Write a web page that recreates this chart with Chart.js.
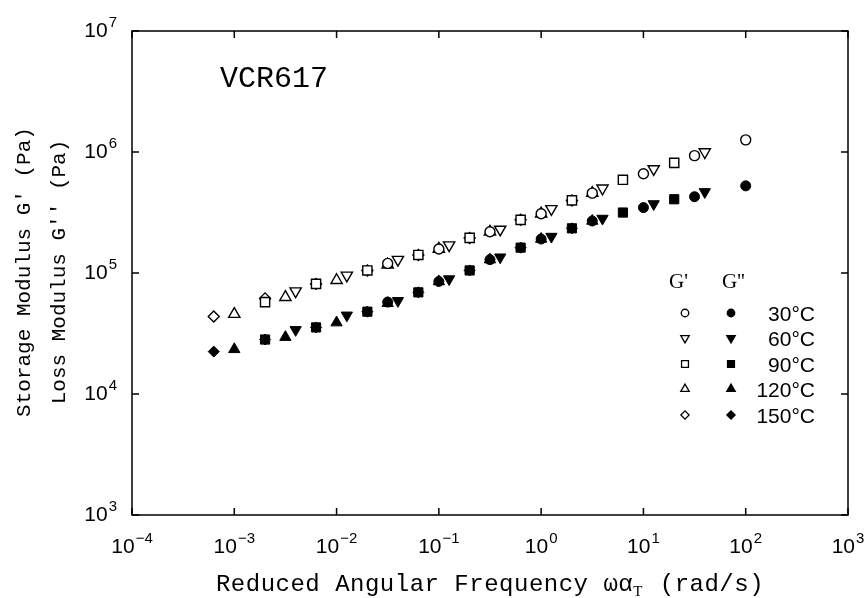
<!DOCTYPE html>
<html>
<head>
<meta charset="utf-8">
<script src="https://cdn.jsdelivr.net/npm/chart.js@4.4.1/dist/chart.umd.min.js"></script>
<style>
  html, body { margin: 0; padding: 0; background: #fff; }
  #wrap { width: 865px; height: 598px; }
</style>
</head>
<body>
<div id="wrap"><canvas id="chart" width="865" height="598"></canvas></div>
<script>
// reduced angular frequency (rad/s) and moduli (Pa)
const freq30 = [0.0316, 0.1, 0.316, 1, 3.16, 10, 31.6, 100]
const gp30 = [1.20e5, 1.58e5, 2.19e5, 3.09e5, 4.57e5, 6.61e5, 9.33e5, 1.26e6]
const gpp30 = [5.75e4, 8.51e4, 1.29e5, 1.91e5, 2.69e5, 3.47e5, 4.27e5, 5.25e5]

const freq60 = [0.00398, 0.0126, 0.0398, 0.126, 0.398, 1.26, 3.98, 12.6, 39.8]
const gp60 = [7.08e4, 9.55e4, 1.29e5, 1.70e5, 2.29e5, 3.39e5, 5.01e5, 7.24e5, 1.0e6]
const gpp60 = [3.39e4, 4.47e4, 5.89e4, 8.91e4, 1.35e5, 2.0e5, 2.82e5, 3.72e5, 4.68e5]

const freq90 = [0.002, 0.0063, 0.02, 0.063, 0.2, 0.63, 2.0, 6.3, 20]
const gp90 = [5.75e4, 8.13e4, 1.05e5, 1.41e5, 1.95e5, 2.75e5, 3.98e5, 5.89e5, 8.13e5]
const gpp90 = [2.82e4, 3.55e4, 4.79e4, 6.92e4, 1.05e5, 1.62e5, 2.34e5, 3.16e5, 4.07e5]

const freq120 = [0.001, 0.00316, 0.01, 0.0316, 0.1, 0.316, 1, 3.16]
const gp120 = [4.57e4, 6.31e4, 8.71e4, 1.17e5, 1.58e5, 2.19e5, 3.09e5, 4.57e5]
const gpp120 = [2.34e4, 2.95e4, 3.89e4, 5.62e4, 8.51e4, 1.29e5, 1.91e5, 2.69e5]

const freq150 = [0.00063, 0.002, 0.0063, 0.02, 0.063, 0.2, 0.63, 2.0]
const gp150 = [4.37e4, 6.17e4, 8.13e4, 1.05e5, 1.41e5, 1.95e5, 2.75e5, 3.98e5]
const gpp150 = [2.24e4, 2.82e4, 3.55e4, 4.79e4, 6.92e4, 1.05e5, 1.62e5, 2.34e5]

const temps = ['30°C', '60°C', '90°C', '120°C', '150°C']
const xTicks = [1e-4, 1e-3, 1e-2, 1e-1, 1e0, 1e1, 1e2, 1e3]
const yTicks = [1e3, 1e4, 1e5, 1e6, 1e7]

const series = [
  [freq30, gp30, gpp30],
  [freq60, gp60, gpp60],
  [freq90, gp90, gpp90],
  [freq120, gp120, gpp120],
  [freq150, gp150, gpp150]
]

// marker per temperature
const markers = [
  { style: 'circle', rot: 0, r: 5 },
  { style: 'triangle', rot: 180, r: 6.5 },
  { style: 'rect', rot: 0, r: 6.5 },
  { style: 'triangle', rot: 0, r: 6.5 },
  { style: 'rectRot', rot: 0, r: 5.5 }
]

const datasets = []
series.forEach(([f, gp, gpp], i) => {
  const m = markers[i]
  datasets.push({
    label: "G' " + temps[i],
    data: f.map((x, k) => ({ x, y: gp[k] })),
    pointStyle: m.style, pointRotation: m.rot, pointRadius: m.r,
    backgroundColor: '#fff', borderColor: '#000', pointBorderWidth: 1.4,
    showLine: false, order: i
  })
  datasets.push({
    label: "G'' " + temps[i],
    data: f.map((x, k) => ({ x, y: gpp[k] })),
    pointStyle: m.style, pointRotation: m.rot, pointRadius: m.r,
    backgroundColor: '#000', borderColor: '#000', pointBorderWidth: 1,
    showLine: false, order: i
  })
})

const SANS = '"Liberation Sans", Arial, sans-serif'
const MONO = '"Liberation Mono", "DejaVu Sans Mono", monospace'
const SERIF = '"Liberation Serif", "DejaVu Serif", serif'

function drawPow(ctx, exp, px, base, align) {
  const e = String(exp).replace('-', '\u2212')
  ctx.font = '21px ' + SANS
  const w1 = ctx.measureText('10').width
  ctx.font = '15px ' + SANS
  const w2 = ctx.measureText(e).width + 1
  const left = align === 'center' ? px - (w1 + w2) / 2 : px - w1 - w2
  ctx.font = '21px ' + SANS
  ctx.fillText('10', left, base)
  ctx.font = '15px ' + SANS
  ctx.fillText(e, left + w1 + 1, base - 10)
}

const decorations = {
  id: 'decorations',
  afterDraw(chart) {
    const { ctx, chartArea: a, scales: { x, y } } = chart
    ctx.save()
    ctx.strokeStyle = '#000'
    ctx.fillStyle = '#000'
    ctx.lineWidth = 1.5
    ctx.strokeRect(a.left, a.top, a.right - a.left, a.bottom - a.top)

    // inward ticks on all four sides
    ctx.beginPath()
    xTicks.forEach(v => {
      const px = x.getPixelForValue(v)
      ctx.moveTo(px, a.bottom); ctx.lineTo(px, a.bottom - 7)
      ctx.moveTo(px, a.top); ctx.lineTo(px, a.top + 7)
    })
    yTicks.forEach(v => {
      const py = y.getPixelForValue(v)
      ctx.moveTo(a.left, py); ctx.lineTo(a.left + 7, py)
      ctx.moveTo(a.right, py); ctx.lineTo(a.right - 7, py)
    })
    ctx.stroke()

    ctx.textAlign = 'left'
    ctx.textBaseline = 'alphabetic'
    xTicks.forEach(v => drawPow(ctx, Math.round(Math.log10(v)), x.getPixelForValue(v), a.bottom + 38, 'center'))
    yTicks.forEach(v => drawPow(ctx, Math.round(Math.log10(v)), a.left - 15, y.getPixelForValue(v) + 6, 'right'))

    // x axis title with subscript
    const p1 = 'Reduced Angular Frequency \u03c9\u03b1'
    const p3 = ' (rad/s)'
    ctx.font = '24px ' + MONO
    ctx.letterSpacing = '0.5px'
    const w1 = ctx.measureText(p1).width
    const w3 = ctx.measureText(p3).width
    ctx.font = '15px ' + SERIF
    const w2 = ctx.measureText('T').width + 2
    const tx = 490 - (w1 + w2 + w3) / 2
    const tb = a.bottom + 76
    ctx.font = '24px ' + MONO
    ctx.fillText(p1, tx, tb)
    ctx.font = '15px ' + SERIF
    ctx.fillText('T', tx + w1, tb + 5)
    ctx.font = '24px ' + MONO
    ctx.fillText(p3, tx + w1 + w2, tb)
    ctx.letterSpacing = '0px'

    // y axis titles (two lines, rotated)
    ctx.textAlign = 'center'
    ctx.font = '21px ' + MONO
    ;[["Storage Modulus G' (Pa)", 30], ["Loss Modulus G'' (Pa)", 65]].forEach(([t, bx]) => {
      ctx.save()
      ctx.translate(bx, 272)
      ctx.rotate(-Math.PI / 2)
      ctx.fillText(t, 0, 0)
      ctx.restore()
    })

    // sample name
    ctx.textAlign = 'left'
    ctx.font = '30px ' + MONO
    ctx.fillText('VCR617', 220, 87)

    // legend: G' (open) and G'' (filled) columns
    ctx.font = '21px ' + SERIF
    ctx.fillText("G'", 669, 288)
    ctx.fillText("G''", 722, 288)
    const rows = [313, 338, 364, 389, 415]
    markers.forEach((m, i) => {
      const opts = { pointStyle: m.style, rotation: m.rot, radius: m.r * 0.75, borderWidth: 1.3 }
      ctx.lineWidth = 1.3
      ctx.fillStyle = '#fff'
      Chart.helpers.drawPoint(ctx, opts, 685, rows[i])
      ctx.fillStyle = '#000'
      Chart.helpers.drawPoint(ctx, opts, 731, rows[i])
      ctx.textAlign = 'right'
      ctx.font = '21px ' + SANS
      ctx.fillText(temps[i], 815, rows[i] + 8)
      ctx.textAlign = 'left'
    })
    ctx.restore()
  }
}

new Chart(document.getElementById('chart'), {
  type: 'scatter',
  data: { datasets },
  options: {
    responsive: false,
    animation: false,
    layout: { padding: { left: 132, right: 17, top: 31, bottom: 83 } },
    plugins: { legend: { display: false }, tooltip: { enabled: false } },
    scales: {
      x: { type: 'logarithmic', min: 1e-4, max: 1e3, display: false },
      y: { type: 'logarithmic', min: 1e3, max: 1e7, display: false }
    }
  },
  plugins: [decorations]
})
</script>
</body>
</html>
